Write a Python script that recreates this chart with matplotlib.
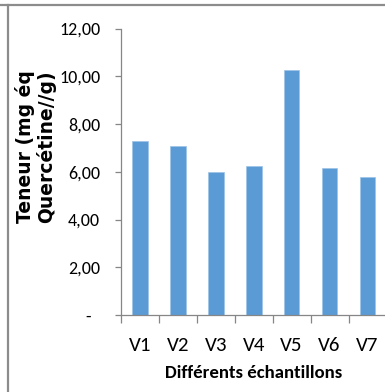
import numpy as np
import matplotlib.pyplot as plt
from matplotlib.lines import Line2D

# Teneur en flavonoïdes par échantillon
samples = ['V1', 'V2', 'V3', 'V4', 'V5', 'V6', 'V7']
teneur = [7.27, 7.07, 5.97, 6.25, 10.28, 6.14, 5.80]
yticks = [0, 2, 4, 6, 8, 10, 12]
ytick_labels = ['-  ', '2,00', '4,00', '6,00', '8,00', '10,00', '12,00']
ylabel_lines = ['Teneur (mg éq', 'Quercétine//g)']

calibri = ['Carlito', 'Liberation Sans', 'DejaVu Sans']
blue = '#5B9BD5'
grey = '#868686'

fig = plt.figure(figsize=(3.85, 3.92), dpi=100)
ax = fig.add_axes([121/385, 77/392, 265.5/385, 286.5/392])

x = np.arange(len(samples))
ax.bar(x, teneur, width=0.41, color=blue, edgecolor='#9DC3E6', linewidth=0.5)

ax.set_xlim(-0.5, len(samples) - 0.5)
ax.set_ylim(0, 12)

for side in ['top', 'right']:
    ax.spines[side].set_visible(False)
for side in ['left', 'bottom']:
    ax.spines[side].set_color(grey)
    ax.spines[side].set_linewidth(0.9)

# axe y
ax.set_yticks(yticks)
ax.set_yticklabels(ytick_labels, family=calibri, fontsize=13)
ax.tick_params(axis='y', direction='out', length=4, width=0.9, color=grey, pad=11)

# axe x : traits entre les catégories, étiquettes au centre
ax.set_xticks(np.arange(-0.5, len(samples)), minor=False)
ax.set_xticklabels([])
ax.tick_params(axis='x', which='major', direction='out', length=6, width=0.9, color=grey)
ax.set_xticks(x, minor=True)
ax.set_xticklabels(samples, minor=True, family=calibri, fontsize=15)
ax.tick_params(axis='x', which='minor', length=0, pad=16)

# titre de l'axe y sur deux lignes
for xpos, line in zip([25, 46], ylabel_lines):
    fig.text(xpos/385, 1 - 147/392, line, rotation=90, ha='center', va='center',
             fontsize=13.5, fontweight='bold', family='DejaVu Sans')
fig.text(254/385, 1 - 373/392, 'Différents échantillons', ha='center', va='center',
         fontsize=13.5, fontweight='bold', family=calibri)

# cadre gris
fig.add_artist(Line2D([8/385, 8/385], [0, 1 - 4.5/392], color='#8c8c8c', lw=1.6,
                      transform=fig.transFigure))
fig.add_artist(Line2D([0, 1], [1 - 4.5/392, 1 - 4.5/392], color='#8c8c8c', lw=1.6,
                      transform=fig.transFigure))

plt.savefig('out.png', dpi=100)
